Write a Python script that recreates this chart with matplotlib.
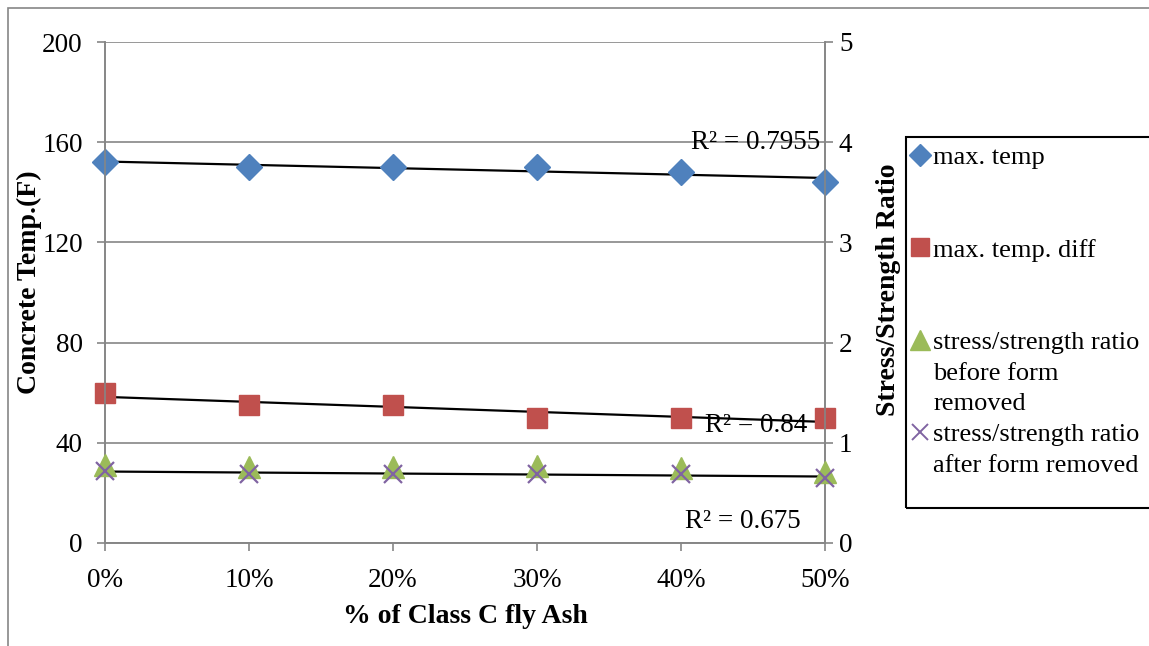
"""
Concrete temperature and stress/strength ratio vs. % of Class C fly ash.
"""

import numpy as np
import matplotlib.pyplot as plt
from matplotlib.lines import Line2D
from matplotlib.patches import Rectangle

plt.rcParams["font.family"] = ["Liberation Serif", "DejaVu Serif"]

FIG_PATH = "out.png"

fly_ash = ["0%", "10%", "20%", "30%", "40%", "50%"]
max_temp = [152, 150, 150, 150, 148, 144]
max_temp_diff = [60, 55, 55, 50, 50, 50]
ratio_before = [0.78, 0.76, 0.76, 0.77, 0.75, 0.71]
ratio_after = [0.72, 0.69, 0.69, 0.69, 0.69, 0.65]
r2_labels = ["R² = 0.7955", "R² = 0.84", "R² = 0.675"]

BLUE = "#4F81BD"
RED = "#C0504D"
GREEN = "#9BBB59"
PURPLE = "#8064A2"
GRID = "#868686"
FS = 19.5


def trend(ax, x, y):
    k, b = np.polyfit(x, y, 1)
    ax.plot(x, k * np.asarray(x) + b, color="black", lw=1.6, zorder=4, clip_on=False)


def main() -> None:
    W, H = 1149, 646
    fig = plt.figure(figsize=(W / 100, H / 100), dpi=100)
    ax = fig.add_axes([105 / W, (H - 543) / H, 720 / W, 501 / H])
    ax2 = ax.twinx()

    x = np.arange(len(fly_ash))

    ax.plot(x, max_temp, ls="none", marker="D", ms=13, color=BLUE, zorder=5, clip_on=False)
    ax.plot(x, max_temp_diff, ls="none", marker="s", ms=14, color=RED, zorder=5, clip_on=False)
    ax2.plot(x, ratio_before, ls="none", marker="^", ms=16, color=GREEN, zorder=5, clip_on=False)
    ax2.plot(x, ratio_after, ls="none", marker="x", ms=13, mew=1.6, color=PURPLE, zorder=6,
             clip_on=False)

    trend(ax, x, max_temp)
    trend(ax, x, max_temp_diff)
    trend(ax2, x, ratio_after)

    ax.text(4.97, 160, r2_labels[0], fontsize=FS, ha="right", va="center", zorder=7)
    ax.text(4.88, 47, r2_labels[1], fontsize=FS, ha="right", va="center", zorder=7)
    ax.text(4.83, 8.4, r2_labels[2], fontsize=FS, ha="right", va="center", zorder=7)

    ax.set_xlim(0, 5)
    ax.set_ylim(0, 200)
    ax.set_yticks(np.arange(0, 201, 40))
    ax.set_xticks(x)
    ax.set_xticklabels(fly_ash)
    ax2.set_ylim(0, 5)
    ax2.set_yticks(np.arange(0, 6, 1))

    ax.grid(axis="y", color=GRID, lw=1.2)
    ax.set_axisbelow(True)
    for a in (ax, ax2):
        for side in ("left", "right", "bottom"):
            a.spines[side].set_color(GRID)
            a.spines[side].set_linewidth(1.2)
        a.spines["top"].set_visible(False)
    ax.tick_params(axis="y", length=6, width=1.2, color=GRID, pad=10, labelsize=FS)
    ax.tick_params(axis="x", length=6, width=1.2, color=GRID, pad=12, labelsize=FS)
    ax2.tick_params(axis="y", length=6, width=1.2, color=GRID, pad=4, labelsize=FS)

    ax.set_xlabel("% of Class C fly Ash", fontsize=20, fontweight="bold", labelpad=8)
    ax.set_ylabel("Concrete Temp.(F)", fontsize=20, fontweight="bold")
    ax2.set_ylabel("Stress/Strength Ratio", fontsize=20, fontweight="bold")
    ax.yaxis.set_label_coords((42 - 105) / 720, 0.52)
    ax2.yaxis.set_label_coords((876 - 105) / 720, 0.505)

    # legend rows follow the Excel layout (blank rows for the gaps)
    blank = Line2D([], [], ls="none")
    handles = [
        Line2D([], [], ls="none", marker="D", ms=11, color=BLUE), blank, blank,
        Line2D([], [], ls="none", marker="s", ms=13, color=RED), blank, blank,
        Line2D([], [], ls="none", marker="^", ms=14, color=GREEN), blank, blank,
        Line2D([], [], ls="none", marker="x", ms=12, mew=1.4, color=PURPLE), blank,
    ]
    labels = [
        "max. temp", " ", " ",
        "max. temp. diff", " ", " ",
        "stress/strength ratio", "before form", "removed",
        "stress/strength ratio", "after form removed",
    ]
    fig.legend(handles, labels, loc="upper left", bbox_to_anchor=(911 / W, 1 - 146 / H),
               frameon=False, fontsize=19, handlelength=0.7, handletextpad=0.15,
               labelspacing=0.275, borderpad=0, borderaxespad=0)
    fig.patches.append(Rectangle((906 / W, 1 - 508 / H), 0.3, (508 - 137) / H,
                                 transform=fig.transFigure, fill=False, ec="black", lw=1.5))
    # outer chart-area border
    fig.patches.append(Rectangle((8 / W, -0.1), 1.1, 1.1 - 8 / H,
                                 transform=fig.transFigure, fill=False, ec=GRID, lw=1.2))

    fig.savefig(FIG_PATH, dpi=100)
    plt.close(fig)


if __name__ == "__main__":
    main()
